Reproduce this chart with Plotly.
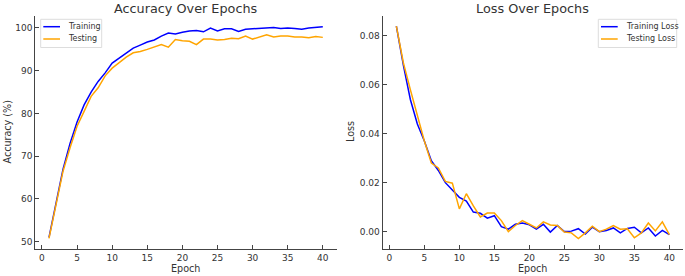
import plotly.graph_objects as go

epochs = list(range(1, 41))

train_acc = [51.0, 59.0, 67.0, 73.0, 78.0, 82.0, 85.0, 87.5, 89.5, 91.8,
             93.0, 94.2, 95.3, 96.0, 96.7, 97.2, 98.1, 98.8, 98.6, 99.0,
             99.3, 99.4, 99.1, 100.0, 99.3, 99.8, 99.8, 99.2, 99.7, 99.8,
             99.9, 100.0, 100.1, 99.9, 100.0, 99.9, 99.7, 100.0, 100.2, 100.3]
test_acc = [50.8, 58.5, 66.5, 72.0, 77.0, 80.5, 84.0, 86.0, 88.8, 90.6,
            92.0, 93.2, 94.2, 94.5, 95.0, 95.5, 96.1, 95.5, 97.3, 97.0,
            96.9, 96.1, 97.4, 97.4, 97.2, 97.3, 97.6, 97.5, 98.1, 97.4,
            97.9, 98.4, 97.9, 98.1, 98.1, 97.9, 97.9, 97.7, 98.0, 97.8]

train_loss = [0.084, 0.068, 0.054, 0.044, 0.037, 0.029, 0.025, 0.020, 0.017, 0.014,
              0.0125, 0.008, 0.0075, 0.0055, 0.0065, 0.002, 0.001, 0.003, 0.0035, 0.0028,
              0.001, 0.003, -0.0002, 0.0025, 0.0, 0.0002, 0.0012, -0.001, 0.0018, 0.0,
              0.0005, 0.0015, -0.0005, 0.0013, 0.0018, -0.0005, 0.0015, -0.0018, 0.0005, -0.0012]
test_loss = [0.084, 0.069, 0.058, 0.047, 0.037, 0.028, 0.026, 0.0205, 0.0198, 0.0093,
             0.0155, 0.0105, 0.006, 0.0076, 0.0076, 0.0045, 0.0, 0.0025, 0.0045, 0.003,
             0.0015, 0.004, 0.0027, 0.0025, -0.0002, -0.0005, -0.0028, -0.0005, 0.0022, 0.0,
             0.001, 0.0025, 0.001, 0.0012, -0.0025, -0.0005, 0.0035, 0.0003, 0.004, -0.0012]

x_ticks = [0, 5, 10, 15, 20, 25, 30, 35, 40]
acc_ticks = [50, 60, 70, 80, 90, 100]
loss_ticks = [0.0, 0.02, 0.04, 0.06, 0.08]

acc_names = ["Training", "Testing"]
loss_names = ["Training Loss", "Testing Loss"]

BLUE = "#0000ff"
ORANGE = "#ffa500"
FONT = "DejaVu Sans"
TXT = "#333333"
AX = "#444444"
W, H = 685, 276


def px(x):
    return x / W


def py(y):
    return 1 - y / H


fig = go.Figure()
fig.add_trace(go.Scatter(x=epochs, y=train_acc, mode="lines", name=acc_names[0],
                         line=dict(color=BLUE, width=1.5), xaxis="x", yaxis="y"))
fig.add_trace(go.Scatter(x=epochs, y=test_acc, mode="lines", name=acc_names[1],
                         line=dict(color=ORANGE, width=1.5), xaxis="x", yaxis="y"))
fig.add_trace(go.Scatter(x=epochs, y=train_loss, mode="lines", name=loss_names[0],
                         line=dict(color=BLUE, width=1.5), xaxis="x2", yaxis="y2"))
fig.add_trace(go.Scatter(x=epochs, y=test_loss, mode="lines", name=loss_names[1],
                         line=dict(color=ORANGE, width=1.5), xaxis="x2", yaxis="y2"))

common = dict(showline=True, linecolor=AX, linewidth=1.2, ticks="inside", ticklen=4,
              tickcolor=AX, showgrid=False, zeroline=False, automargin=False,
              tickfont=dict(family=FONT, size=9, color=TXT), mirror=False)

ydom = [27 / H, 260 / H]

shapes = []
annotations = []

# titles
for text, cx in [("Accuracy Over Epochs", (35.3 + 336.5) / 2), ("Loss Over Epochs", (382.7 + 683) / 2)]:
    annotations.append(dict(text=text, x=px(cx), y=py(8), xref="paper", yref="paper",
                            showarrow=False, xanchor="center", yanchor="middle",
                            font=dict(family=FONT, size=12.8, color=TXT)))
# axis titles
for cx in [(35.3 + 336.5) / 2, (382.7 + 683) / 2]:
    annotations.append(dict(text="Epoch", x=px(cx), y=py(268.5), xref="paper", yref="paper",
                            showarrow=False, xanchor="center", yanchor="middle",
                            font=dict(family=FONT, size=9.6, color=TXT)))
annotations.append(dict(text="Accuracy (%)", x=px(6.5), y=py(132), xref="paper", yref="paper",
                        showarrow=False, xanchor="center", yanchor="middle", textangle=-90,
                        font=dict(family=FONT, size=9.6, color=TXT)))
annotations.append(dict(text="Loss", x=px(350), y=py(132), xref="paper", yref="paper",
                        showarrow=False, xanchor="center", yanchor="middle", textangle=-90,
                        font=dict(family=FONT, size=9.6, color=TXT)))

# legends (drawn as decorations)
for (bx0, bx1, lx0, lx1, tx), names in [((40.7, 101.7, 43.3, 60, 66), acc_names),
                                         ((598.3, 676.7, 601, 617.7, 624), loss_names)]:
    shapes.append(dict(type="rect", xref="paper", yref="paper", x0=px(bx0), x1=px(bx1),
                       y0=py(47.5), y1=py(19.3), line=dict(color="#dddddd", width=1),
                       fillcolor="rgba(255,255,255,0.85)", layer="above"))
    for ly, color, name in [(26.7, BLUE, names[0]), (39.0, ORANGE, names[1])]:
        shapes.append(dict(type="line", xref="paper", yref="paper", x0=px(lx0), x1=px(lx1),
                           y0=py(ly), y1=py(ly), line=dict(color=color, width=1.5), layer="above"))
        annotations.append(dict(text=name, x=px(tx), y=py(ly), xref="paper", yref="paper",
                                showarrow=False, xanchor="left", yanchor="middle",
                                font=dict(family=FONT, size=8, color=TXT)))

fig.update_layout(
    width=W, height=H,
    margin=dict(l=0, r=0, t=0, b=0),
    paper_bgcolor="white", plot_bgcolor="white",
    showlegend=False,
    font=dict(family=FONT, color=TXT),
    xaxis=dict(domain=[px(35.3), px(336.5)], range=[-0.95, 41.95], tickvals=x_ticks,
               anchor="y", **common),
    yaxis=dict(domain=ydom, range=[48.3, 102.8], tickvals=acc_ticks,
               anchor="x", **common),
    xaxis2=dict(domain=[px(382.7), px(683)], range=[-0.95, 41.95], tickvals=x_ticks,
                anchor="y2", **common),
    yaxis2=dict(domain=ydom, range=[-0.0071, 0.0881], tickvals=loss_ticks, tickformat=".2f",
                anchor="x2", **common),
    shapes=shapes,
    annotations=annotations,
)

fig.write_html("out.html", config={"displayModeBar": False},
               post_script="document.body.style.margin='0';document.body.style.overflow='hidden';")
